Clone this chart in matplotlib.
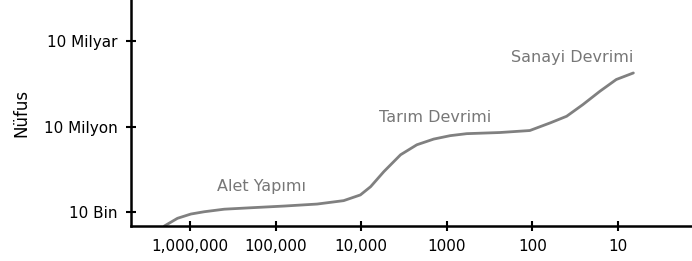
import matplotlib
matplotlib.use("Agg")
import matplotlib.pyplot as plt

plt.rcParams['font.family'] = ['DejaVu Sans']

# curve: years ago vs population (log10 values)
years_log = [6.30, 6.147, 5.99, 5.835, 5.60, 5.29, 4.90, 4.515, 4.205, 4.01, 3.89,
             3.735, 3.54, 3.35, 3.153, 2.96, 2.767, 2.38, 2.03, 1.79, 1.60, 1.41,
             1.21, 1.02, 0.82]
pop_log = [3.51, 3.78, 3.93, 4.01, 4.10, 4.15, 4.21, 4.28, 4.40, 4.60, 4.89,
           5.42, 6.01, 6.36, 6.56, 6.68, 6.75, 6.79, 6.86, 7.13, 7.36, 7.77,
           8.24, 8.65, 8.88]

xtick_vals = [1e6, 1e5, 1e4, 1e3, 1e2, 1e1]
xtick_labels = ["1,000,000", "100,000", "10,000", "1000", "100", "10"]
ytick_vals = [1e4, 1e7, 1e10]
ytick_labels = ["10 Bin", "10 Milyon", "10 Milyar"]

labels = ["Alet Yapımı", "Tarım Devrimi", "Sanayi Devrimi"]
label_x = [5.16, 3.14, 1.54]
label_y = [4.88, 7.31, 9.42]

fig = plt.figure(figsize=(6.92, 2.61), dpi=100)
ax = fig.add_axes([131/692, 35/261, 1 - 131/692, 1 - 35/261])

xs = [10**v for v in years_log]
ys = [10**v for v in pop_log]
ax.plot(xs, ys, color='#808080', lw=2, solid_capstyle='round',
        solid_joinstyle='round')

ax.set_xscale('log')
ax.set_yscale('log')
ax.set_xlim(10**6.69, 10**0.135)
ax.set_ylim(10**3.51, 10**11.44)

ax.set_xticks(xtick_vals, xtick_labels)
ax.set_yticks(ytick_vals, ytick_labels)
ax.minorticks_off()
ax.tick_params(direction='inout', length=7, width=1.5, labelsize=11, pad=6)

for s in ['top', 'right']:
    ax.spines[s].set_visible(False)
for s in ['left', 'bottom']:
    ax.spines[s].set_linewidth(1.8)

ax.set_ylabel("Nüfus", fontsize=12, labelpad=10)

for t, x, y in zip(labels, label_x, label_y):
    ax.text(10**x, 10**y, t, color='#777777', fontsize=11.5, ha='center', va='center')

fig.savefig("out.png", dpi=100)
